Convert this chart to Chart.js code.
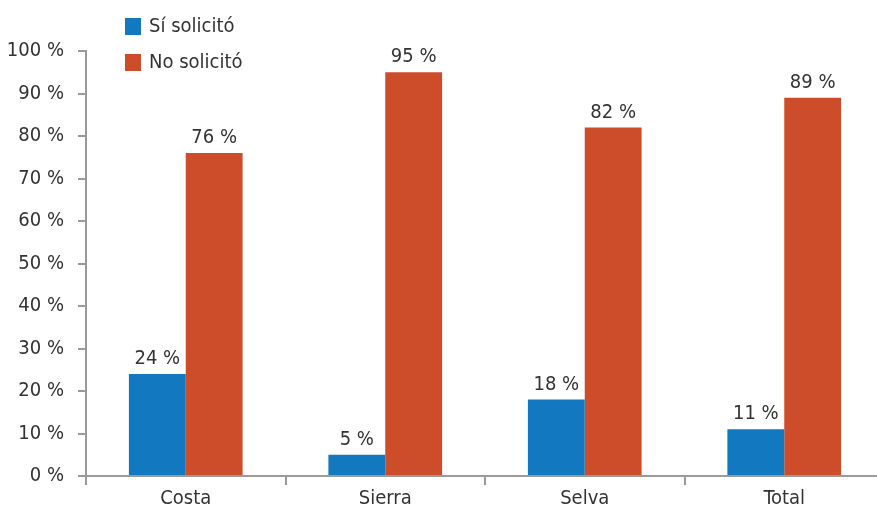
<!DOCTYPE html>
<html>
<head>
<meta charset="utf-8">
<script src="https://cdn.jsdelivr.net/npm/chart.js@4/dist/chart.umd.min.js"></script>
<style>
  html, body { margin: 0; padding: 0; background: #fff; overflow: hidden; }
  #wrap { width: 884px; height: 508px; }
</style>
</head>
<body>
<div id="wrap"><canvas id="myChart"></canvas></div>
<script>
const categories = ['Costa', 'Sierra', 'Selva', 'Total']
const siSolicito = [24, 5, 18, 11]
const noSolicito = [76, 95, 82, 89]
const seriesNames = ['Sí solicitó', 'No solicitó']
const yTicks = [0, 10, 20, 30, 40, 50, 60, 70, 80, 90, 100]

const FONT = "'DejaVu Sans Condensed', 'Liberation Sans Narrow', sans-serif"
const TEXT = '#333333'
const AXIS = '#9a9a9a'

// values over bars
const valueLabels = {
  id: 'valueLabels',
  afterDatasetsDraw(chart) {
    const ctx = chart.ctx
    ctx.save()
    ctx.font = '20px ' + FONT
    ctx.fillStyle = TEXT
    ctx.textAlign = 'center'
    ctx.textBaseline = 'alphabetic'
    chart.data.datasets.forEach((ds, i) => {
      chart.getDatasetMeta(i).data.forEach((bar, j) => {
        ctx.fillText(ds.data[j] + ' %', bar.x, bar.y - 10)
      })
    })
    ctx.restore()
  }
}

// legend stacked in the top-left corner
const sideLegend = {
  id: 'sideLegend',
  afterDraw(chart) {
    const ctx = chart.ctx
    ctx.save()
    ctx.font = '20px ' + FONT
    ctx.textBaseline = 'middle'
    chart.data.datasets.forEach((ds, i) => {
      const y = 26 + i * 36
      ctx.fillStyle = ds.backgroundColor
      ctx.fillRect(125, y - 8, 16, 17)
      ctx.fillStyle = TEXT
      ctx.fillText(ds.label, 149, y + 1)
    })
    ctx.restore()
  }
}

new Chart('myChart', {
  type: 'bar',
  data: {
    labels: categories,
    datasets: [
      { label: seriesNames[0], data: siSolicito, backgroundColor: '#1278bf' },
      { label: seriesNames[1], data: noSolicito, backgroundColor: '#cd4d2b' }
    ]
  },
  options: {
    responsive: true,
    maintainAspectRatio: false,
    animation: false,
    layout: { padding: { top: 51, left: 0, right: 0, bottom: 0 } },
    datasets: { bar: { categoryPercentage: 0.57, barPercentage: 1 } },
    plugins: { legend: { display: false }, tooltip: { enabled: false } },
    scales: {
      x: {
        grid: { offset: true, drawOnChartArea: false, drawTicks: true, tickLength: 9, color: AXIS, lineWidth: 2 },
        border: { display: true, color: AXIS, width: 2 },
        ticks: { font: { family: FONT, size: 20 }, color: TEXT, padding: 2 },
        afterFit(scale) { scale.height = 32 }
      },
      y: {
        min: 0,
        max: 100,
        afterBuildTicks(scale) { scale.ticks = yTicks.map(v => ({ value: v })) },
        grid: { drawOnChartArea: false, drawTicks: true, tickLength: 8, color: AXIS, lineWidth: 2 },
        border: { display: true, color: AXIS, width: 2 },
        ticks: { font: { family: FONT, size: 20 }, color: TEXT, padding: 14, callback: v => v + ' %' },
        afterFit(scale) { scale.width = 86 }
      }
    }
  },
  plugins: [valueLabels, sideLegend]
})
</script>
</body>
</html>
